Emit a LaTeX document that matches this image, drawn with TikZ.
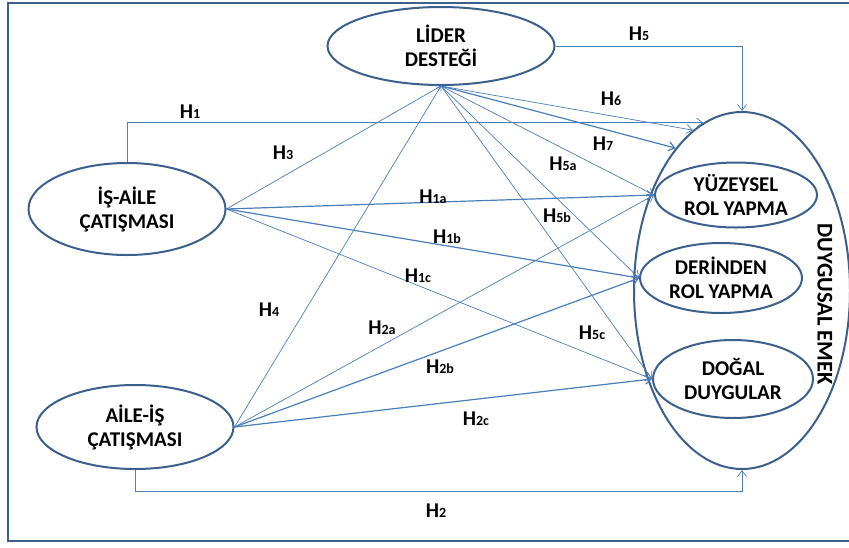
\documentclass[tikz,border=0pt]{standalone}
\usepackage{fontspec}
\setmainfont{Carlito}
\usetikzlibrary{arrows.meta,shapes.geometric}
\definecolor{edgeblue}{RGB}{74,126,187}
\definecolor{darkblue}{RGB}{60,95,140}
\newcommand{\hsub}[1]{H{\fontsize{14}{14}\selectfont#1}}
\begin{document}
\begin{tikzpicture}[x=1pt,y=-1pt,
  oval/.style={ellipse,draw=darkblue,line width=2pt,inner sep=0pt,align=center,
    font=\fontsize{21}{24}\selectfont\bfseries},
  conn/.style={draw=edgeblue,line width=0.7pt,-{Straight Barb[length=6pt,width=9pt]}},
  bconn/.style={conn,line width=1.2pt},
  hlab/.style={font=\fontsize{21}{21}\selectfont\bfseries,inner sep=0pt}
]
\useasboundingbox (0,0) rectangle (849,547);
\draw[darkblue,line width=2pt] (8,3) rectangle (880,541);

% nodes
\node[oval,minimum width=227pt,minimum height=78pt] (lider) at (441,46) {LİDER\\DESTEĞİ};
\node[oval,minimum width=197pt,minimum height=92pt] (isaile) at (127,209) {İŞ-AİLE\\ÇATIŞMASI};
\node[oval,minimum width=197pt,minimum height=84pt] (aileis) at (135,427) {AİLE-İŞ\\ÇATIŞMASI};
\node[ellipse,draw=darkblue,line width=2pt,inner sep=0pt,minimum width=216pt,minimum height=357pt] (emek) at (742,290.5) {};
\node[oval,minimum width=162pt,minimum height=65pt] (yuz) at (736,195) {YÜZEYSEL\\ROL YAPMA};
\node[oval,minimum width=162pt,minimum height=70pt] (der) at (721,278) {DERİNDEN\\ROL YAPMA};
\node[oval,minimum width=160pt,minimum height=78pt] (dog) at (733,379) {DOĞAL\\DUYGULAR};
\node[rotate=-90,font=\fontsize{22.5}{22.5}\selectfont\bfseries,inner sep=0pt] (emeklab) at (825,304) {DUYGUSAL EMEK};

% connectors
\draw[conn] (isaile.north) |- (emek.103.5);
\draw[conn] (lider.east) -| (emek.north);
\draw[conn] (aileis.south) -- ++(0,21) -| (emek.south);
\draw[conn,-{Straight Barb[length=4pt,width=6pt]}] (isaile.east) -- (lider.south);
\draw[conn,-{Straight Barb[length=4pt,width=6pt]}] (aileis.east) -- (lider.south);
\draw[conn] (lider.south) -- (emek.107);
\draw[bconn] (lider.south) -- (emek.115.6);
\draw[conn] (lider.south) -- (yuz.west);
\draw[conn] (lider.south) -- (der.west);
\draw[conn] (lider.south) -- (dog.west);
\draw[bconn] (isaile.east) -- (yuz.west);
\draw[bconn] (isaile.east) -- (der.west);
\draw[conn] (isaile.east) -- (dog.west);
\draw[conn] (aileis.east) -- (yuz.west);
\draw[bconn] (aileis.east) -- (der.west);
\draw[bconn] (aileis.east) -- (dog.west);

% labels
\node[hlab] (l1) at (190,112) {\hsub{1}};
\node[hlab] (l3) at (283,153) {\hsub{3}};
\node[hlab] (l4) at (269,310) {\hsub{4}};
\node[hlab] (l5) at (639,34) {\hsub{5}};
\node[hlab] (l6) at (611,99) {\hsub{6}};
\node[hlab] (l7) at (603,144) {\hsub{7}};
\node[hlab] (l5a) at (563,164) {\hsub{5a}};
\node[hlab] (l5b) at (557,216) {\hsub{5b}};
\node[hlab] (l5c) at (592,333) {\hsub{5c}};
\node[hlab] (l1a) at (433,197) {\hsub{1a}};
\node[hlab] (l1b) at (447,237) {\hsub{1b}};
\node[hlab] (l1c) at (418,276) {\hsub{1c}};
\node[hlab] (l2a) at (382,328) {\hsub{2a}};
\node[hlab] (l2b) at (440,367) {\hsub{2b}};
\node[hlab] (l2c) at (476,419) {\hsub{2c}};
\node[hlab] (l2) at (436,511) {\hsub{2}};
\end{tikzpicture}
\end{document}
